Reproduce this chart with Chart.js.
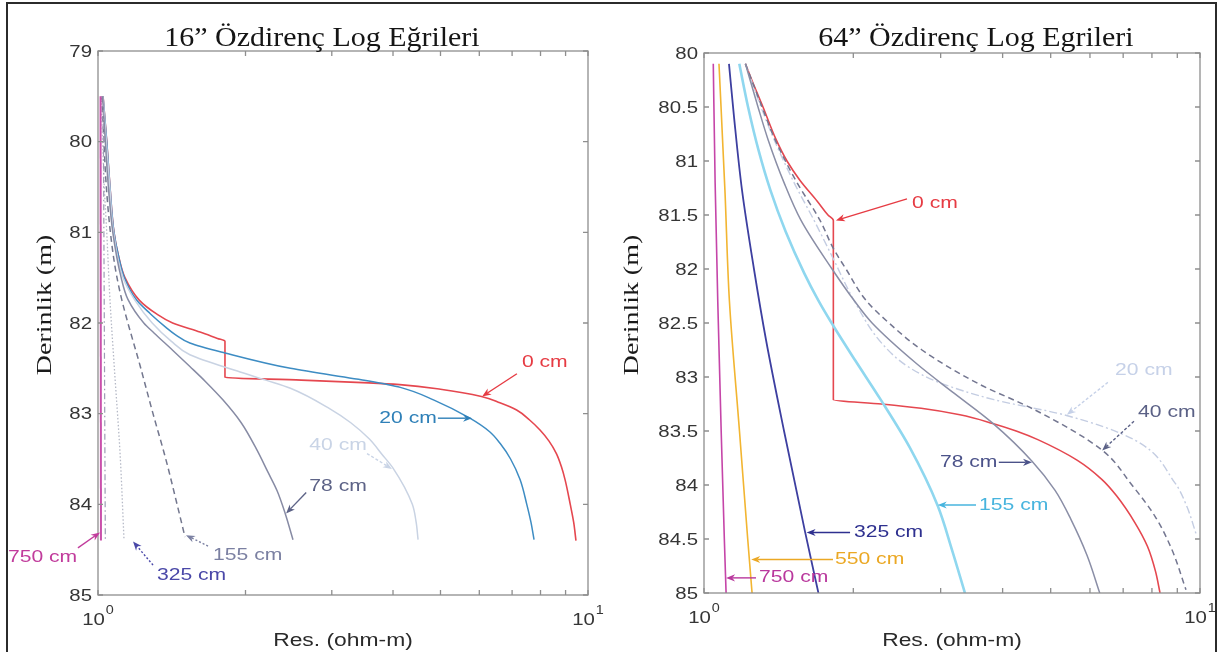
<!DOCTYPE html>
<html>
<head>
<meta charset="utf-8">
<script src="https://cdn.jsdelivr.net/npm/chart.js@4.4.1/dist/chart.umd.min.js"></script>
<style>
  html, body { margin: 0; padding: 0; background: #fff; overflow: hidden; }
  #wrap { position: relative; width: 1220px; height: 652px; }
  #c16 { position: absolute; left: 0; top: 0; }
  #c64 { position: absolute; left: 605px; top: 0; }
  #frame { position: absolute; left: 6px; top: 2px; width: 1211px; height: 700px;
           border: 2px solid #2b2b2b; box-sizing: border-box; pointer-events: none; }
</style>
</head>
<body>
<div id="wrap">
  <canvas id="c16" width="605" height="652"></canvas>
  <canvas id="c64" width="615" height="652"></canvas>
  <div id="frame"></div>
</div>
<script>
// ---- tick values ----
const xMinor = [1, 2, 3, 4, 5, 6, 7, 8, 9, 10];
const xMajor = [1, 10];
const xExp = ['0', '1'];
const yTicks16 = [79, 80, 81, 82, 83, 84, 85];
const yTicks64 = [80, 80.5, 81, 81.5, 82, 82.5, 83, 83.5, 84, 84.5, 85];

// ---- 16" panel: depth (m) and resistivity (ohm-m) per invasion radius ----
const depth16_0 = [79.5, 80, 80.5, 81, 81.25, 81.5, 81.75, 81.9, 82, 82.1, 82.17, 82.2, 82.6, 82.63, 82.66, 82.68, 82.73, 82.81, 82.88, 82.96, 83.07, 83.18, 83.3, 83.44, 83.58, 83.73, 84, 84.2, 84.4];
const res16_0 = [1.024, 1.042, 1.058, 1.078, 1.1, 1.135, 1.215, 1.317, 1.42, 1.615, 1.753, 1.816, 1.816, 2.6, 3.57, 4.13, 5.0, 6.06, 6.61, 7.15, 7.6, 7.98, 8.32, 8.62, 8.82, 8.98, 9.2, 9.35, 9.45];
const depth16_20 = [79.5, 80, 80.5, 81, 81.25, 81.5, 81.75, 81.9, 82.04, 82.13, 82.22, 82.33, 82.5, 82.64, 82.71, 82.85, 83.05, 83.2, 83.33, 83.5, 83.73, 84, 84.2, 84.39];
const res16_20 = [1.024, 1.042, 1.058, 1.078, 1.1, 1.132, 1.2, 1.28, 1.37, 1.44, 1.54, 1.816, 2.47, 3.57, 4.14, 4.85, 5.74, 6.3, 6.62, 6.95, 7.27, 7.5, 7.65, 7.76];
const depth16_40 = [79.5, 80, 80.5, 81, 81.5, 81.75, 82, 82.2, 82.35, 82.54, 82.63, 82.72, 82.95, 83.1, 83.28, 83.45, 83.6, 84, 84.2, 84.39];
const res16_40 = [1.024, 1.04, 1.057, 1.076, 1.125, 1.19, 1.29, 1.41, 1.54, 1.95, 2.2, 2.47, 2.98, 3.28, 3.58, 3.8, 4.0, 4.38, 4.46, 4.5];
const depth16_78 = [79.5, 80, 80.5, 81, 81.5, 81.74, 82, 82.11, 82.3, 82.48, 82.65, 82.85, 83.1, 83.4, 83.64, 83.85, 84.1, 84.39];
const res16_78 = [1.022, 1.035, 1.05, 1.072, 1.115, 1.151, 1.24, 1.301, 1.42, 1.54, 1.66, 1.8, 1.96, 2.11, 2.22, 2.32, 2.41, 2.5];
const depth16_155 = [79.5, 80, 80.5, 81, 81.4, 81.75, 82.48, 83, 83.5, 84, 84.36];
const res16_155 = [1.018, 1.028, 1.04, 1.06, 1.085, 1.119, 1.22, 1.295, 1.375, 1.45, 1.505];
const depth16_325 = [79.5, 80, 80.5, 81, 81.75, 82.5, 83.43, 84.39];
const res16_325 = [1.015, 1.022, 1.03, 1.042, 1.058, 1.08, 1.109, 1.13];
const depth16_550 = [79.5, 84.4];
const res16_550 = [1.025, 1.035];
const depth16_750 = [79.5, 84.4];
const res16_750 = [1.012, 1.014];

// ---- 64" panel ----
const depth64_0 = [80.1, 80.3, 80.5, 80.8, 81.0, 81.18, 81.37, 81.5, 81.55, 83.21, 83.25, 83.29, 83.35, 83.43, 83.5, 83.58, 83.77, 83.95, 84.1, 84.35, 84.57, 84.8, 85];
const res64_0 = [1.212, 1.261, 1.315, 1.397, 1.47, 1.562, 1.69, 1.778, 1.823, 1.823, 2.28, 2.74, 3.28, 3.82, 4.26, 4.71, 5.65, 6.346, 6.788, 7.395, 7.838, 8.134, 8.307];
const depth64_20 = [80.1, 80.5, 80.8, 81.2, 81.55, 81.9, 82.29, 82.69, 82.91, 83.05, 83.21, 83.35, 83.58, 83.98, 84.2, 84.45];
const res64_20 = [1.212, 1.303, 1.384, 1.519, 1.667, 1.82, 2.006, 2.285, 2.59, 2.977, 3.843, 5.318, 7.36, 8.9, 9.41, 9.816];
const depth64_40 = [80.1, 80.5, 80.8, 81.2, 81.55, 81.81, 82.0, 82.29, 82.5, 82.75, 83.06, 83.31, 83.68, 84.0, 84.29, 84.6, 84.97];
const res64_40 = [1.212, 1.309, 1.39, 1.54, 1.714, 1.823, 1.933, 2.121, 2.36, 2.751, 3.567, 4.671, 6.358, 7.29, 8.115, 8.78, 9.37];
const depth64_78 = [80.1, 80.5, 80.8, 81.2, 81.55, 82.0, 82.29, 82.5, 82.88, 83.15, 83.43, 83.78, 84.05, 84.32, 84.65, 85];
const res64_78 = [1.212, 1.285, 1.346, 1.45, 1.569, 1.812, 2.006, 2.182, 2.688, 3.192, 3.824, 4.585, 5.103, 5.495, 5.918, 6.279];
const depth64_155 = [80.1, 80.5, 80.9, 81.27, 81.65, 82.04, 82.29, 82.53, 82.85, 83.21, 83.65, 84.19, 84.6, 85];
const res64_155 = [1.178, 1.227, 1.288, 1.361, 1.46, 1.593, 1.7, 1.825, 2.02, 2.271, 2.597, 2.958, 3.162, 3.358];
const depth64_325 = [80.1, 80.6, 81.27, 82.0, 82.66, 83.5, 84.43, 85];
const res64_325 = [1.123, 1.15, 1.193, 1.261, 1.334, 1.45, 1.598, 1.701];
const depth64_550 = [80.1, 81.27, 82.29, 83.5, 84.5, 85];
const res64_550 = [1.072, 1.102, 1.125, 1.179, 1.225, 1.25];
const depth64_750 = [80.1, 81.2, 82.3, 83.5, 84.5, 85];
const res64_750 = [1.044, 1.053, 1.066, 1.083, 1.099, 1.108];

// ---- series styling ----
const series16 = [
  { label: '750 cm', depth: depth16_750, res: res16_750, color: '#c94fab', width: 2 },
  { label: '550 cm', depth: depth16_550, res: res16_550, color: '#9c9cb4', width: 1.2, dash: [6, 3, 1.5, 3] },
  { label: '325 cm', depth: depth16_325, res: res16_325, color: '#b5b9c6', width: 1.3, dash: [1.5, 2] },
  { label: '155 cm', depth: depth16_155, res: res16_155, color: '#73778e', width: 1.5, dash: [6, 4] },
  { label: '78 cm', depth: depth16_78, res: res16_78, color: '#878ba4', width: 1.5 },
  { label: '40 cm', depth: depth16_40, res: res16_40, color: '#c9d3e3', width: 1.5 },
  { label: '20 cm', depth: depth16_20, res: res16_20, color: '#3d8cc3', width: 1.5 },
  { label: '0 cm', depth: depth16_0, res: res16_0, color: '#e5474f', width: 1.6 }
];
const series64 = [
  { label: '750 cm', depth: depth64_750, res: res64_750, color: '#c545a8', width: 1.6 },
  { label: '550 cm', depth: depth64_550, res: res64_550, color: '#f2b531', width: 1.6 },
  { label: '325 cm', depth: depth64_325, res: res64_325, color: '#3d3fa0', width: 1.8 },
  { label: '155 cm', depth: depth64_155, res: res64_155, color: '#8fd7ef', width: 2.6 },
  { label: '78 cm', depth: depth64_78, res: res64_78, color: '#8a8ea6', width: 1.5 },
  { label: '40 cm', depth: depth64_40, res: res64_40, color: '#737690', width: 1.5, dash: [6, 4] },
  { label: '20 cm', depth: depth64_20, res: res64_20, color: '#c4cde2', width: 1.4, dash: [8, 3, 2, 3] },
  { label: '0 cm', depth: depth64_0, res: res64_0, color: '#e5474f', width: 1.6 }
];

// ---- labels with arrows (in data units: res, depth) ----
const notes16 = [
  { text: '0 cm', color: '#e63b43', tx: 7.33, ty: 82.43, from: [7.16, 82.56], to: [6.08, 82.81] },
  { text: '20 cm', color: '#2f80b8', tx: 3.75, ty: 83.05, from: [4.94, 83.05], to: [5.8, 83.05] },
  { text: '40 cm', color: '#c9d4e6', tx: 2.70, ty: 83.355, from: [3.54, 83.44], to: [3.98, 83.61], dash: [3, 2] },
  { text: '78 cm', color: '#5d6387', tx: 2.70, ty: 83.80, from: [2.66, 83.87], to: [2.42, 84.1] },
  { text: '155 cm', color: '#7b80a2', tx: 1.717, ty: 84.56, from: [1.677, 84.46], to: [1.512, 84.34], dash: [2, 2] },
  { text: '325 cm', color: '#4a48a8', tx: 1.319, ty: 84.78, from: [1.295, 84.67], to: [1.179, 84.41], dash: [2, 2] },
  { text: '750 cm', color: '#c13c9c', tx: 0.655, ty: 84.59, from: [0.91, 84.48], to: [1.0094, 84.31] }
];
const notes64 = [
  { text: '0 cm', color: '#e63b43', tx: 2.627, ty: 81.39, from: [2.566, 81.35], to: [1.845, 81.55] },
  { text: '20 cm', color: '#c6d1e8', tx: 6.74, ty: 82.94, from: [6.52, 83.05], to: [5.39, 83.35], dash: [3, 2] },
  { text: '40 cm', color: '#5b6186', tx: 7.5, ty: 83.33, from: [7.36, 83.41], to: [6.35, 83.68], dash: [3, 2] },
  { text: '78 cm', color: '#4b5289', tx: 2.99, ty: 83.79, from: [3.93, 83.79], to: [4.585, 83.79] },
  { text: '155 cm', color: '#47b4de', tx: 3.585, ty: 84.185, from: [3.535, 84.185], to: [2.96, 84.185] },
  { text: '325 cm', color: '#2e308f', tx: 2.006, ty: 84.44, from: [1.97, 84.44], to: [1.61, 84.44] },
  { text: '550 cm', color: '#eba824', tx: 1.837, ty: 84.69, from: [1.82, 84.69], to: [1.245, 84.69] },
  { text: '750 cm', color: '#b9389d', tx: 1.291, ty: 84.86, from: [1.273, 84.86], to: [1.108, 84.86] }
];

const SANS = '"Liberation Sans", Arial, sans-serif';
const SERIF = '"Liberation Serif", "Times New Roman", serif';

// draw text stretched horizontally (the source figure is a bit wide)
function sText(ctx, str, x, y, sx, align) {
  ctx.save();
  ctx.translate(x, y);
  ctx.scale(sx, 1);
  ctx.textAlign = align || 'left';
  ctx.fillText(str, 0, 0);
  ctx.restore();
}

function arrow(ctx, x0, y0, x1, y1, color, dash) {
  const ang = Math.atan2(y1 - y0, x1 - x0);
  const L = 9, W = 3.6;
  const c = Math.cos(ang), s = Math.sin(ang);
  ctx.save();
  ctx.strokeStyle = color; ctx.fillStyle = color; ctx.lineWidth = 1.4;
  ctx.setLineDash(dash || []);
  ctx.beginPath();
  ctx.moveTo(x0, y0);
  ctx.lineTo(x1 - c * L * 0.7, y1 - s * L * 0.7);
  ctx.stroke();
  ctx.setLineDash([]);
  ctx.beginPath();
  ctx.moveTo(x1, y1);
  ctx.lineTo(x1 - c * L + s * W, y1 - s * L - c * W);
  ctx.lineTo(x1 - c * L * 0.7, y1 - s * L * 0.7);
  ctx.lineTo(x1 - c * L - s * W, y1 - s * L + c * W);
  ctx.closePath();
  ctx.fill();
  ctx.restore();
}

const decor = {
  id: 'decor',
  afterDatasetsDraw(chart, args, o) {
    const ctx = chart.ctx, a = chart.chartArea;
    const xs = chart.scales.x, ys = chart.scales.y;
    ctx.save();

    // box + inward ticks
    ctx.strokeStyle = '#8e8e8e';
    ctx.lineWidth = 1.3;
    ctx.strokeRect(a.left, a.top, a.right - a.left, a.bottom - a.top);
    ctx.beginPath();
    xMinor.forEach(v => {
      const p = xs.getPixelForValue(v);
      ctx.moveTo(p, a.bottom); ctx.lineTo(p, a.bottom - 5);
      ctx.moveTo(p, a.top); ctx.lineTo(p, a.top + 5);
    });
    o.yTicks.forEach(v => {
      const p = ys.getPixelForValue(v);
      ctx.moveTo(a.left, p); ctx.lineTo(a.left + 5, p);
      ctx.moveTo(a.right, p); ctx.lineTo(a.right - 5, p);
    });
    ctx.stroke();

    // tick labels
    ctx.fillStyle = '#353535';
    ctx.textBaseline = 'middle';
    ctx.font = '17px ' + SANS;
    o.yTicks.forEach(v => sText(ctx, String(v), a.left - 6, ys.getPixelForValue(v) + 1, 1.2, 'right'));
    xMajor.forEach((v, i) => {
      const p = xs.getPixelForValue(v);
      ctx.font = '17px ' + SANS;
      const w1 = ctx.measureText('10').width * 1.2;
      ctx.font = '12px ' + SANS;
      const w2 = ctx.measureText(xExp[i]).width * 1.2;
      const x0 = p - (w1 + 1 + w2) / 2;
      ctx.font = '17px ' + SANS;
      sText(ctx, '10', x0, a.bottom + 25, 1.2, 'left');
      ctx.font = '12px ' + SANS;
      sText(ctx, xExp[i], x0 + w1 + 1, a.bottom + 16, 1.2, 'left');
    });

    // axis titles
    ctx.font = '18px ' + SANS;
    ctx.fillStyle = '#2a2a2a';
    sText(ctx, 'Res. (ohm-m)', (a.left + a.right) / 2, 641, 1.27, 'center');
    ctx.save();
    ctx.translate(o.yTitleX, 305);
    ctx.rotate(-Math.PI / 2);
    ctx.font = '21px ' + SERIF;
    ctx.fillStyle = '#1a1a1a';
    sText(ctx, 'Derinlik (m)', 0, 0, 1.33, 'center');
    ctx.restore();

    // title
    ctx.font = '28px ' + SERIF;
    ctx.fillStyle = '#151515';
    ctx.textBaseline = 'alphabetic';
    sText(ctx, o.title, o.titleX, 46, 1.07, 'center');

    // annotations
    ctx.textBaseline = 'middle';
    ctx.font = '16.5px ' + SANS;
    o.notes.forEach(n => {
      ctx.fillStyle = n.color;
      sText(ctx, n.text, xs.getPixelForValue(n.tx), ys.getPixelForValue(n.ty), 1.28, 'left');
      arrow(ctx, xs.getPixelForValue(n.from[0]), ys.getPixelForValue(n.from[1]),
        xs.getPixelForValue(n.to[0]), ys.getPixelForValue(n.to[1]), n.color, n.dash);
    });
    ctx.restore();
  }
};

function makeChart(id, yMin, yMax, series, pad, deco) {
  return new Chart(document.getElementById(id), {
    type: 'scatter',
    data: {
      datasets: series.map(s => ({
        label: s.label,
        data: s.depth.map((d, i) => ({ x: s.res[i], y: d })),
        showLine: true,
        pointRadius: 0,
        borderColor: s.color,
        borderWidth: s.width,
        borderDash: s.dash || [],
        cubicInterpolationMode: 'monotone',
        fill: false
      }))
    },
    options: {
      indexAxis: 'y',   // depth runs down the page, so spline along y
      responsive: false,
      animation: false,
      events: [],
      layout: { padding: pad },
      plugins: { legend: { display: false }, tooltip: { enabled: false }, decor: deco },
      scales: {
        x: { type: 'logarithmic', min: 1, max: 10, display: false },
        y: { type: 'linear', min: yMin, max: yMax, reverse: true, display: false }
      }
    },
    plugins: [decor]
  });
}

makeChart('c16', 79, 85, series16, { left: 98, right: 17, top: 51, bottom: 57 },
  { title: '16\u201D Özdirenç Log Eğrileri', titleX: 322, yTitleX: 45, yTicks: yTicks16, notes: notes16 });
makeChart('c64', 80, 85, series64, { left: 99, right: 20, top: 53, bottom: 59 },
  { title: '64\u201D Özdirenç Log Egrileri', titleX: 371, yTitleX: 27, yTicks: yTicks64, notes: notes64 });
</script>
</body>
</html>
